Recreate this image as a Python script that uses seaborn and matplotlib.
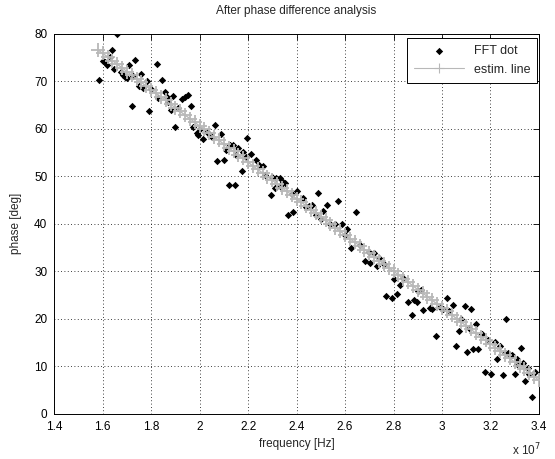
import pandas as pd
import matplotlib
matplotlib.use("Agg")
import matplotlib.pyplot as plt
import seaborn as sns

# FFT phase points, frequency in units of 1e7 Hz
fft_freq = [1.586, 1.602, 1.609, 1.619, 1.630, 1.638, 1.647, 1.660, 1.675, 1.682,
            1.691, 1.699, 1.710, 1.720, 1.725, 1.733, 1.750, 1.757, 1.767, 1.784,
            1.792, 1.800, 1.823, 1.829, 1.843, 1.857, 1.866, 1.870, 1.880, 1.891,
            1.900, 1.910, 1.926, 1.939, 1.953, 1.963, 1.974, 1.990, 1.994, 2.000,
            2.012, 2.029, 2.042, 2.050, 2.063, 2.073, 2.087, 2.100, 2.110, 2.120,
            2.124, 2.139, 2.146, 2.150, 2.159, 2.173, 2.180, 2.190, 2.196, 2.210,
            2.232, 2.246, 2.260, 2.270, 2.293, 2.297, 2.313, 2.315, 2.330, 2.331,
            2.345, 2.352, 2.365, 2.380, 2.386, 2.403, 2.425, 2.440, 2.452, 2.462,
            2.482, 2.489, 2.500, 2.510, 2.524, 2.540, 2.558, 2.572, 2.586, 2.600,
            2.609, 2.623, 2.645, 2.660, 2.682, 2.700, 2.702, 2.719, 2.730, 2.741,
            2.760, 2.768, 2.792, 2.801, 2.815, 2.826, 2.840, 2.860, 2.878, 2.884,
            2.897, 2.900, 2.915, 2.922, 2.950, 2.957, 2.974, 2.990, 3.005, 3.019,
            3.030, 3.046, 3.057, 3.070, 3.080, 3.094, 3.104, 3.110, 3.119, 3.128,
            3.142, 3.149, 3.165, 3.179, 3.190, 3.201, 3.218, 3.229, 3.238, 3.252,
            3.260, 3.266, 3.273, 3.287, 3.300, 3.310, 3.311, 3.325, 3.334, 3.344,
            3.355, 3.360, 3.372, 3.383]
fft_phase = [70.3, 74.3, 73.9, 73.4, 75.0, 76.6, 72.6, 79.9, 71.8, 71.3,
             70.9, 70.6, 73.4, 64.7, 71.0, 74.5, 68.9, 71.5, 68.5, 70.1,
             63.7, 68.4, 73.6, 66.4, 70.3, 67.6, 66.6, 65.5, 64.0, 66.9,
             60.3, 64.4, 66.2, 66.7, 67.1, 64.7, 60.4, 59.0, 58.6, 60.0,
             57.7, 59.3, 58.6, 58.3, 60.7, 53.2, 58.8, 53.4, 55.5, 48.1,
             56.5, 56.5, 48.1, 54.5, 56.0, 51.1, 55.1, 54.0, 58.1, 54.6,
             53.4, 52.3, 52.1, 50.2, 46.0, 49.7, 47.4, 49.5, 48.0, 49.5,
             48.8, 48.5, 41.9, 46.2, 42.4, 46.9, 45.3, 43.5, 43.7, 44.0,
             41.8, 46.4, 41.0, 42.6, 43.9, 40.0, 39.9, 44.7, 39.8, 37.5,
             38.8, 34.8, 42.5, 35.5, 32.2, 34.0, 31.6, 33.9, 31.1, 32.8,
             31.5, 24.7, 24.3, 28.3, 25.2, 27.1, 28.5, 23.5, 20.7, 23.9,
             23.5, 25.8, 26.1, 21.8, 22.3, 22.1, 16.3, 22.5, 22.1, 24.3,
             21.5, 22.8, 14.2, 17.4, 20.0, 22.6, 13.0, 18.0, 22.1, 13.6,
             18.8, 13.5, 16.7, 8.7, 15.5, 8.3, 15.1, 11.5, 14.2, 8.1,
             12.8, 19.8, 12.8, 12.3, 8.3, 10.5, 11.5, 13.7, 10.6, 6.8,
             9.6, 8.4, 3.5, 8.7]

# estimated straight line
est_freq = [1.58, 1.60, 1.62, 1.64, 1.66, 1.68, 1.70, 1.72, 1.74, 1.76,
            1.78, 1.80, 1.82, 1.84, 1.86, 1.88, 1.90, 1.92, 1.94, 1.96,
            1.98, 2.00, 2.02, 2.04, 2.06, 2.08, 2.10, 2.12, 2.14, 2.16,
            2.18, 2.20, 2.22, 2.24, 2.26, 2.28, 2.30, 2.32, 2.34, 2.36,
            2.38, 2.40, 2.42, 2.44, 2.46, 2.48, 2.50, 2.52, 2.54, 2.56,
            2.58, 2.60, 2.62, 2.64, 2.66, 2.68, 2.70, 2.72, 2.74, 2.76,
            2.78, 2.80, 2.82, 2.84, 2.86, 2.88, 2.90, 2.92, 2.94, 2.96,
            2.98, 3.00, 3.02, 3.04, 3.06, 3.08, 3.10, 3.12, 3.14, 3.16,
            3.18, 3.20, 3.22, 3.24, 3.26, 3.28, 3.30, 3.32, 3.34, 3.36,
            3.38, 3.40]
est_phase = [76.6, 75.8, 75.1, 74.3, 73.5, 72.8, 72.0, 71.2, 70.5, 69.7,
             68.9, 68.2, 67.4, 66.7, 65.9, 65.1, 64.4, 63.6, 62.8, 62.1,
             61.3, 60.5, 59.8, 59.0, 58.2, 57.5, 56.7, 55.9, 55.2, 54.4,
             53.7, 52.9, 52.1, 51.4, 50.6, 49.8, 49.1, 48.3, 47.5, 46.8,
             46.0, 45.2, 44.5, 43.7, 42.9, 42.2, 41.4, 40.7, 39.9, 39.1,
             38.4, 37.6, 36.8, 36.1, 35.3, 34.5, 33.8, 33.0, 32.2, 31.5,
             30.7, 30.0, 29.2, 28.4, 27.7, 26.9, 26.1, 25.4, 24.6, 23.8,
             23.1, 22.3, 21.5, 20.8, 20.0, 19.2, 18.5, 17.7, 16.9, 16.2,
             15.4, 14.7, 13.9, 13.1, 12.4, 11.6, 10.8, 10.1, 9.3, 8.5,
             7.8, 7.0]

x_ticks = [1.4, 1.6, 1.8, 2.0, 2.2, 2.4, 2.6, 2.8, 3.0, 3.2, 3.4]
x_tick_labels = ["1.4", "1.6", "1.8", "2", "2.2", "2.4", "2.6", "2.8", "3", "3.2", "3.4"]
y_ticks = [0, 10, 20, 30, 40, 50, 60, 70, 80]

df_fft = pd.DataFrame({"freq": [f * 1e7 for f in fft_freq], "phase": fft_phase})
df_est = pd.DataFrame({"freq": [f * 1e7 for f in est_freq], "phase": est_phase})

sns.set_style("white")
plt.rcParams["font.family"] = ["Liberation Sans", "DejaVu Sans"]
plt.rcParams["font.size"] = 8.5

grey = "#b8b8b8"

fig = plt.figure(figsize=(5.55, 4.59), dpi=100)
ax = fig.add_axes([0.0977, 0.099, 0.8733, 0.828])

sns.scatterplot(data=df_fft, x="freq", y="phase", ax=ax, marker="D", s=14,
                color="black", linewidth=0, label="FFT dot", zorder=2)
sns.lineplot(data=df_est, x="freq", y="phase", ax=ax, color=grey,
             marker="+", markersize=9.5, markeredgewidth=1.3,
             markeredgecolor=grey, linewidth=1.0,
             label="estim. line", zorder=3)

ax.set_xlim(1.4e7, 3.4e7)
ax.set_ylim(0, 80)
ax.set_xticks([t * 1e7 for t in x_ticks])
ax.set_xticklabels(x_tick_labels)
ax.set_yticks(y_ticks)
ax.tick_params(direction="in", length=4, width=0.6, top=True, right=True,
               labelsize=8.5, colors="black", pad=5)
for s in ax.spines.values():
    s.set_color("black")
    s.set_linewidth(0.7)
ax.grid(True, color="black", linestyle=(0, (1, 3)), linewidth=0.6)

ax.set_title("After phase difference analysis", fontsize=8.5, pad=14)
ax.set_xlabel("frequency [Hz]", fontsize=8.5, labelpad=4)
ax.set_ylabel("phase [deg]", fontsize=8.5, labelpad=9)
ax.text(1.004, -0.095, r"x 10$^{7}$", transform=ax.transAxes, ha="right",
        va="center", fontsize=8.5)

leg = ax.legend(loc="upper right", bbox_to_anchor=(0.996, 0.988),
                borderaxespad=0, fancybox=False, framealpha=1,
                edgecolor="black", handlelength=4, numpoints=1,
                fontsize=9, borderpad=0.55, labelspacing=0.55)
leg.get_frame().set_linewidth(0.7)
for h in leg.legend_handles:
    if hasattr(h, "set_markeredgecolor"):
        h.set_markeredgecolor(grey)
        h.set_markersize(7)
        h.set_markeredgewidth(0.8)
        h.set_linewidth(0.8)

fig.savefig("out.png", dpi=100)
